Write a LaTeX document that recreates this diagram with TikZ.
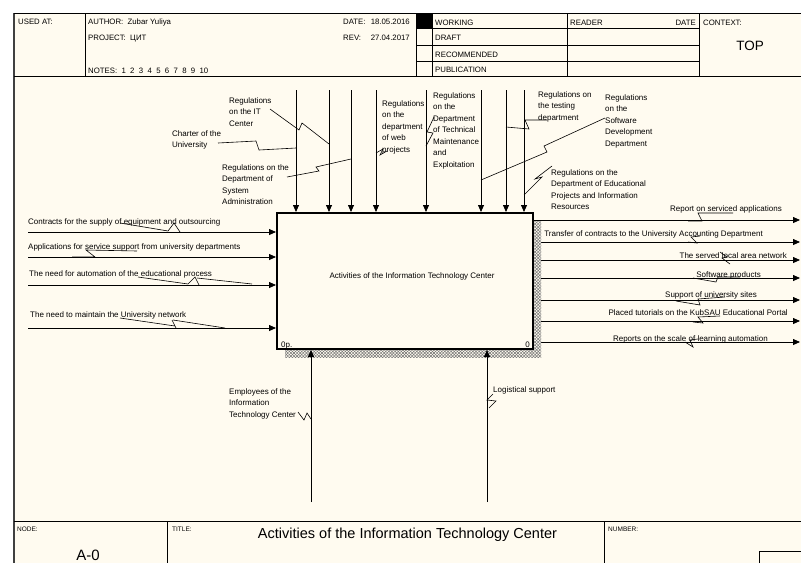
\documentclass[tikz,border=0pt]{standalone}
\usepackage{fontspec}
\setmainfont{Liberation Sans}
\usetikzlibrary{arrows.meta,patterns,patterns.meta}
\definecolor{cream}{RGB}{255,251,240}
\begin{document}
\begin{tikzpicture}[x=1pt,y=-1pt,
  ln/.style={line width=0.8pt},
  arr/.style={line width=0.8pt,-{Triangle[length=7pt,width=6pt]}},
  sq/.style={line width=0.6pt},
  lbl/.style={font=\fontsize{8}{11.5}\selectfont,inner sep=0,align=left,anchor=north west},
  one/.style={font=\fontsize{8}{10}\selectfont,inner sep=0},
  hdr/.style={font=\fontsize{7.8}{9}\selectfont,inner sep=0,anchor=base west},
  tinyl/.style={font=\fontsize{6.5}{8}\selectfont,inner sep=0,anchor=base west}]
\useasboundingbox (0,0) rectangle (801,563);
\fill[white] (0,0) rectangle (801,563);
\fill[cream] (13,13) rectangle (801,563);
% frame
\draw[line width=1.6pt,black!75] (14,13) -- (14,563);
\draw[ln] (14,13) -- (801,13);
\draw[ln] (14,76) -- (801,76);
\foreach \xx in {85,416,432,567,699} \draw[ln] (\xx,13) -- (\xx,76);
\foreach \yy in {28,45,61} \draw[ln] (416,\yy) -- (699,\yy);
\fill (416,13) rectangle (432,28);
\node[hdr] (usedat) at (18,24) {USED AT:};
\node[hdr] (author) at (88,24) {AUTHOR:\ \ Zubar Yuliya};
\node[hdr] (project) at (88,40) {PROJECT:\ \ ЦИТ};
\node[hdr] (notes) at (88,73) {NOTES:\ \ 1\ \ 2\ \ 3\ \ 4\ \ 5\ \ 6\ \ 7\ \ 8\ \ 9\ \ 10};
\node[hdr] (date) at (343,24) {DATE:};
\node[hdr,anchor=base east] (dateval) at (410,24) {18.05.2016};
\node[hdr] (rev) at (343,40) {REV:};
\node[hdr,anchor=base east] (revval) at (410,40) {27.04.2017};
\node[hdr] (working) at (435,25) {WORKING};
\node[hdr] (draft) at (435,40) {DRAFT};
\node[hdr] (recom) at (435,57) {RECOMMENDED};
\node[hdr] (publ) at (435,72) {PUBLICATION};
\node[hdr] (reader) at (570,25) {READER};
\node[hdr,anchor=base east] (rdate) at (696,25) {DATE};
\node[hdr] (context) at (703,25) {CONTEXT:};
\node[font=\fontsize{13.5}{15}\selectfont,inner sep=0] (top) at (750,45.5) {TOP};
% footer
\draw[ln] (14,521) -- (801,521);
\draw[ln] (167,521) -- (167,563);
\draw[ln] (604,521) -- (604,563);
\draw[ln] (759,563) -- (759,551) -- (801,551);
\node[tinyl] (nodelbl) at (17,531) {NODE:};
\node[tinyl] (titlelbl) at (172,531) {TITLE:};
\node[tinyl] (numlbl) at (608,531) {NUMBER:};
\node[font=\fontsize{15}{17}\selectfont,inner sep=0,anchor=base] (nodeval) at (88,560) {A-0};
\node[font=\fontsize{14.5}{17}\selectfont,inner sep=0,anchor=base] (titleval) at (407.5,538) {Activities of the Information Technology Center};
% outputs (drawn first, shadow covers their start)
\coordinate (o1) at (800,220);
\coordinate (o2) at (800,242);
\coordinate (o3) at (800,260);
\coordinate (o4) at (800,278);
\coordinate (o5) at (800,300);
\coordinate (o6) at (800,321);
\coordinate (o7) at (800,342);
\coordinate (bx) at (533,281);
\foreach \o in {o1,o2,o3,o4,o5,o6,o7} \draw[arr] (bx |- \o) -- (\o);
% shadow
\fill[cream] (285,221) rectangle (541,357);
\fill[pattern={Lines[angle=45,distance=2.2pt,line width=0.5pt]},pattern color=black!55] (285,221) rectangle (541,357);
\fill[pattern={Lines[angle=-45,distance=2.2pt,line width=0.5pt]},pattern color=black!55] (285,221) rectangle (541,357);
% main box
\node[draw,line width=2pt,fill=cream,minimum width=256pt,minimum height=136pt,inner sep=0] (box) at (405,281) {};
\node[one] (boxlbl) at (412,276) {Activities of the Information Technology Center};
\node[one,anchor=base west] (boxnum) at (281,347) {0p.};
\node[one,anchor=base east] (boxzero) at (530,347) {0};
% controls
\foreach \cx [count=\i] in {296,329,351,376,426,481,506,524} {
  \coordinate (c\i) at (\cx,90);
  \draw[arr] (c\i) -- (c\i |- box.north);
}
% inputs
\coordinate (i1) at (28,232);
\coordinate (i2) at (28,257);
\coordinate (i3) at (28,285);
\coordinate (i4) at (28,328);
\foreach \i in {i1,i2,i3,i4} \draw[arr] (\i) -- (\i -| box.west);
% mechanisms
\coordinate (m1) at (311,502);
\coordinate (m2) at (487,502);
\draw[arr] (m1) -- (m1 |- box.south);
\draw[arr] (m2) -- (m2 |- box.south);
% control labels
\node[lbl] (l1) at (229,97) {Regulations\\on the IT\\Center};
\node[lbl] (l2) at (172,130) {Charter of the\\University};
\node[lbl] (l3) at (222,164) {Regulations on the\\Department of\\System\\Administration};
\node[lbl] (l4) at (382,100) {Regulations\\on the\\department\\of web\\projects};
\node[lbl] (l5) at (433,92) {Regulations\\on the\\Department\\of Technical\\Maintenance\\and\\Exploitation};
\node[lbl] (l6) at (538,91) {Regulations on\\the testing\\department};
\node[lbl] (l7) at (605,94) {Regulations\\on the\\Software\\Development\\Department};
\node[lbl] (l8) at (551,169) {Regulations on the\\Department of Educational\\Projects and Information\\Resources};
\draw[sq] (270,109) -- (299,130) -- (302,123) -- (329,144);
\draw[sq] (218,143) -- (256,141) -- (259,150) -- (296,148);
\draw[sq] (287,177) -- (319,171) -- (316,167) -- (351,159);
\draw[sq] (376,153) -- (383,149) -- (380,155) -- (387,151);
\draw[sq] (434,117) -- (427,132) -- (433,133) -- (426,146);
\draw[sq] (547,120) -- (525,120) -- (529,129) -- (506,127);
\draw[sq] (605,118) -- (544,146) -- (547,152) -- (481,180);
\draw[sq] (552,166) -- (535,179) -- (542,177) -- (524,195);
% input labels
\node[one,anchor=base west] (li1) at (28,224) {Contracts for the supply of equipment and outsourcing};
\node[one,anchor=base west] (li2) at (28,249) {Applications for service support from university departments};
\node[one,anchor=base west] (li3) at (29,276) {The need for automation of the educational process};
\node[one,anchor=base west] (li4) at (30,317) {The need to maintain the University network};
\draw[sq] (120,223) -- (168,231) -- (174,223) -- (180,232);
\draw[sq] (137,251) -- (86,250) -- (95,257) -- (72,257);
\draw[sq] (138,277) -- (188,284) -- (195,277) -- (199,285);
\draw[sq] (197,278) -- (252,284);
\draw[sq] (120,318) -- (175,326) -- (172,320) -- (176,328);
\draw[sq] (173,320) -- (225,328);
% output labels
\node[one,anchor=base east] (lo1) at (782,211) {Report on serviced applications};
\node[one,anchor=base east] (lo2) at (763,236) {Transfer of contracts to the University Accounting Department};
\node[one,anchor=base east] (lo3) at (787,258) {The served local area network};
\node[one,anchor=base east] (lo4) at (761,277) {Software products};
\node[one,anchor=base east] (lo5) at (757,297) {Support of university sites};
\node[one,anchor=base east] (lo6) at (788,315) {Placed tutorials on the KubSAU Educational Portal};
\node[one,anchor=base east] (lo7) at (768,341) {Reports on the scale of learning automation};
\draw[sq] (733,213) -- (698,213) -- (702,221) -- (688,221);
\draw[sq] (700,236) -- (691,237) -- (697,243) -- (688,242);
\draw[sq] (720,252) -- (727,257) -- (722,258) -- (730,264);
\draw[sq] (693,278) -- (716,282) -- (718,277) -- (740,277);
\draw[sq] (676,301) -- (700,305) -- (698,299) -- (725,297);
\draw[sq] (720,316) -- (698,317) -- (703,323) -- (693,322);
\draw[sq] (685,342) -- (693,347) -- (690,340) -- (698,339);
% mechanism labels
\node[lbl] (lm1) at (229,388) {Employees of the\\Information\\Technology Center};
\node[lbl] (lm2) at (493,386) {Logistical support};
\draw[sq] (298,412) -- (304,420) -- (307,413) -- (311,419);
\draw[sq] (493,394) -- (487,400) -- (496,401) -- (489,408);
\end{tikzpicture}
\end{document}
